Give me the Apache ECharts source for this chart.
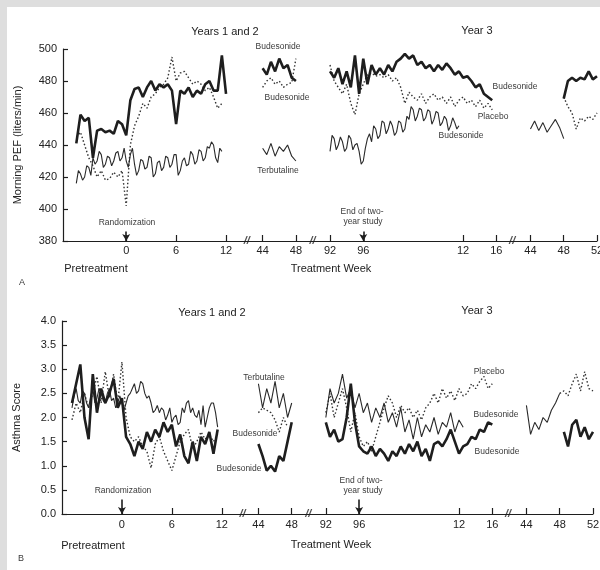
<!DOCTYPE html>
<html>
<head>
<meta charset="utf-8">
<title>Morning PEF and asthma score</title>
<script src="https://cdn.jsdelivr.net/npm/echarts@6/dist/echarts.min.js"></script>
<style>
  html, body { margin: 0; padding: 0; }
  #chart { width: 600px; height: 570px; }
</style>
</head>
<body>
<div id="chart"></div>
<script>
// each array is sampled every half week unless the panel list says otherwise,
// and starts at the study week given there.
// weeks 92..112 run on into year 3 (97 = year 3 week 1), 140..148 = year 3 weeks 44..52

// panel A: morning PEF (liters/min)
const pefBud1 = [441, 459, 455, 457, 432, 449, 450, 448, 449, 447, 455, 453, 446, 468, 475, 476, 470, 476, 480, 474, 478, 476, 478, 474, 453, 474, 472, 476, 470, 474, 472, 478, 480, 474, 474, 496, 472]
const pefDot1 = [445, 448, 440, 432, 427, 420, 424, 418, 419, 423, 420, 424, 402, 440, 452, 458, 466, 463, 470, 472, 476, 478, 482, 495, 480, 485, 486, 482, 478, 480, 478, 474, 476, 470, 463, 466]
const pefTer1 = [416, 424, 422, 418, 420, 427, 426, 421, 432, 428, 430, 436, 434, 426, 428, 433, 432, 427, 430, 435, 436, 430, 432, 438, 430, 426, 434, 438, 428, 421, 424, 431, 430, 425, 426, 433, 432, 420, 422, 429, 430, 424, 426, 433, 432, 426, 428, 434, 434, 421, 424, 430, 432, 427, 428, 436, 434, 428, 430, 437, 436, 430, 432, 439, 438, 442, 440, 432, 429, 438, 436]
const pefBud2 = [488, 484, 492, 486, 494, 488, 490, 482, 480]
const pefDot2 = [476, 480, 482, 478, 480, 476, 478, 479, 494]
const pefTer2 = [438, 434, 441, 433, 439, 436, 440, 433, 430]
const pefBud3 = [486, 482, 488, 478, 486, 476, 496, 472, 494, 478, 490, 484, 488, 484, 490, 486, 492, 494, 497, 494, 496, 490, 492, 488, 490, 486, 490, 487, 491, 488, 484, 486, 482, 483, 480, 476, 478, 472, 470, 468]
const pefDot3 = [490, 480, 476, 472, 478, 466, 459, 472, 478, 484, 485, 483, 484, 482, 484, 480, 482, 476, 466, 473, 470, 468, 472, 466, 470, 472, 468, 470, 466, 470, 464, 468, 470, 466, 468, 464, 468, 463, 466, 462]
const pefTer3 = [436, 446, 444, 437, 440, 445, 442, 436, 438, 446, 444, 437, 440, 441, 436, 428, 430, 438, 444, 447, 442, 452, 450, 444, 446, 455, 454, 447, 450, 455, 452, 446, 448, 455, 454, 448, 450, 458, 456, 464, 462, 455, 458, 463, 462, 455, 457, 462, 461, 453, 456, 461, 460, 452, 454, 458, 456, 449, 452, 457, 454, 450, 452]
const pefTer4 = [450, 455, 449, 454, 448, 452, 456, 451, 444]
const pefBud4 = [469, 480, 482, 480, 482, 481, 486, 481, 483]
const pefDot4 = [470, 464, 460, 450, 457, 455, 458, 456, 460]

// panel B: asthma score
const astBud1 = [2.3, 2.7, 3.1, 2.0, 1.55, 2.9, 2.1, 2.6, 2.3, 2.5, 2.8, 2.2, 2.4, 1.6, 1.45, 1.2, 1.5, 1.35, 1.7, 1.5, 1.75, 1.6, 1.9, 1.7, 1.85, 1.4, 1.65, 1.2, 1.05, 1.5, 1.1, 1.6, 1.45, 1.7, 1.25, 1.75]
const astDot1 = [1.95, 2.3, 2.1, 2.5, 2.2, 2.5, 2.85, 2.3, 2.95, 2.4, 2.9, 2.3, 3.15, 2.0, 1.6, 1.5, 1.6, 1.4, 1.3, 0.95, 1.45, 1.6, 1.3, 1.1, 0.9, 1.2, 1.5, 1.65, 1.75, 1.35, 1.5, 1.7, 1.55, 1.65, 1.5, 1.65]
const astTer1 = [2.2, 2.45, 2.6, 2.35, 2.3, 2.55, 2.5, 2.3, 2.2, 2.45, 2.6, 2.3, 2.4, 2.6, 2.5, 2.35, 2.3, 2.5, 2.6, 2.35, 2.4, 2.2, 2.3, 2.45, 2.3, 2.15, 2.3, 2.45, 2.5, 2.6, 2.7, 2.5, 2.55, 2.75, 2.7, 2.5, 2.4, 2.45, 2.3, 2.1, 2.15, 2.25, 2.1, 2.2, 2.15, 1.95, 2.05, 2.2, 1.9, 2.0, 2.05, 1.85, 1.9, 2.2, 2.1, 2.3, 2.35, 2.1, 2.2, 2.05, 2.0, 2.15, 1.85, 2.25, 1.8, 2.0, 2.2, 2.3, 2.3, 2.1, 1.8]
const astTer2 = [2.7, 2.2, 2.6, 2.3, 2.75, 2.2, 2.5, 2.0, 2.3]
const astDot2 = [2.1, 2.2, 2.15, 2.1, 1.95, 1.7, 2.0, 1.8]
const astBud2 = [1.45, 1.2, 0.9, 1.0, 0.88, 1.2, 1.1, 1.5, 1.9]
const astBud3 = [1.9, 1.6, 1.75, 1.5, 1.55, 2.0, 2.7, 1.9, 1.4, 1.3, 1.25, 1.4, 1.2, 1.35, 1.25, 1.1, 1.3, 1.2, 1.4, 1.25, 1.45, 1.3, 1.5, 1.2, 1.35, 1.1, 1.45, 1.5, 1.4, 1.55, 1.75, 1.5, 1.25, 1.4, 1.45, 1.6, 1.55, 1.75, 1.7, 1.9, 1.85]
const astDot3 = [2.1, 2.5, 2.0, 2.3, 2.6, 2.2, 1.7, 2.1, 1.6, 1.4, 1.5, 1.3, 1.6, 1.9, 2.2, 2.45, 2.3, 2.0, 2.25, 2.1, 2.2, 2.0, 2.15, 1.95, 2.2, 2.3, 2.5, 2.3, 2.6, 2.4, 2.55, 2.35, 2.6, 2.45, 2.5, 2.7, 2.6, 2.75, 2.85, 2.6, 2.7]
const astTer3 = [2.0, 2.6, 2.3, 2.5, 2.9, 2.4, 2.6, 2.2, 2.5, 2.1, 2.3, 1.9, 2.2, 2.0, 2.3, 1.9, 2.1, 1.8, 2.2, 1.7, 1.95, 1.55, 2.0, 1.6, 1.85, 1.7, 2.0, 1.65, 1.9, 1.8, 2.1, 1.7, 1.95, 1.8]
const astTer4 = [2.25, 1.65, 1.9, 1.75, 2.0, 1.9, 2.15, 2.3, 2.5]
const astDot4 = [2.5, 2.55, 2.45, 2.7, 2.9, 2.55, 2.95, 2.6, 2.55]
const astBud4 = [1.7, 1.4, 1.85, 1.95, 1.6, 1.8, 1.55, 1.7]

// axis ticks (study weeks) and what they are labelled
const tickWeeks = [0, 6, 12, 44, 48, 92, 96, 108, 112, 140, 144, 148]
const tickText = ['0', '6', '12', '44', '48', '92', '96', '12', '16', '44', '48', '52']
const breakPos = [14.5, 22.4, 46.4]
const arrowWeeks = [0, 96]

// compressed axis: drop the gaps between the plotted stretches
const toPos = (w) => {
  if (w <= 14) return w
  if (w <= 50) return w - 27.6
  if (w <= 120) return w - 67.5
  return w - 91.4
}

const seg = (start, vals, step) => vals.map((v, i) => [toPos(start + i * step), v])

const ink = '#1e1e1e'
const font = "'Liberation Sans', Arial, sans-serif"
const styles = {
  bud: { color: ink, width: 2.6 },
  ter: { color: '#2a2a2a', width: 1.1 },
  dot: { color: '#333', width: 1.4, type: [1.5, 2.2] }
}

// [style, first week, values, step in weeks]
const panelA = [
  ['dot', -6, pefDot1, 0.5], ['dot', 44, pefDot2, 0.5], ['dot', 92, pefDot3, 0.5], ['dot', 144, pefDot4, 0.5],
  ['ter', -6, pefTer1, 0.25], ['ter', 44, pefTer2, 0.5], ['ter', 92, pefTer3, 0.25], ['ter', 140, pefTer4, 0.5],
  ['bud', -6, pefBud1, 0.5], ['bud', 44, pefBud2, 0.5], ['bud', 92, pefBud3, 0.5], ['bud', 144, pefBud4, 0.5]
]
const panelB = [
  ['dot', -6, astDot1, 0.5], ['dot', 44, astDot2, 0.5], ['dot', 92, astDot3, 0.5], ['dot', 144, astDot4, 0.5],
  ['ter', -6, astTer1, 0.25], ['ter', 44, astTer2, 0.5], ['ter', 92, astTer3, 0.5], ['ter', 140, astTer4, 0.5],
  ['bud', -6, astBud1, 0.5], ['bud', 44, astBud2, 0.5], ['bud', 92, astBud3, 0.5], ['bud', 144.5, astBud4, 0.5]
]

const tickPos = tickWeeks.map(toPos)
const tickLabel = (v) => {
  let best = 0
  tickPos.forEach((p, i) => { if (Math.abs(p - v) < Math.abs(tickPos[best] - v)) best = i })
  return tickText[best]
}

const makeX = (idx, min, margin) => ({
  type: 'value',
  gridIndex: idx,
  min: min,
  max: toPos(148),
  splitLine: { show: false },
  axisLine: { onZero: false, lineStyle: { color: ink, width: 1.2 } },
  axisTick: { inside: true, length: 6, customValues: tickPos, lineStyle: { color: ink, width: 1.2 } },
  axisLabel: { customValues: tickPos, formatter: tickLabel, color: '#222', fontSize: 11, fontFamily: font, margin: margin }
})

const makeY = (idx, min, max, interval, name, fmt) => ({
  type: 'value',
  gridIndex: idx,
  min: min,
  max: max,
  interval: interval,
  name: name,
  nameLocation: 'middle',
  nameGap: 40,
  nameTextStyle: { color: '#222', fontSize: 11, fontFamily: font },
  splitLine: { show: false },
  axisLine: { show: true, onZero: false, lineStyle: { color: ink, width: 1.2 } },
  axisTick: { show: true, inside: true, length: 5, lineStyle: { color: ink, width: 1.2 } },
  axisLabel: { color: '#222', fontSize: 11, fontFamily: font, margin: 6, formatter: fmt }
})

const lineSeries = (list, idx) => list.map(([kind, start, vals, step]) => ({
  type: 'line',
  xAxisIndex: idx,
  yAxisIndex: idx,
  data: seg(start, vals, step),
  showSymbol: false,
  symbol: 'none',
  lineStyle: styles[kind],
  z: kind === 'bud' ? 4 : 3,
  silent: true
}))

// break marks on the axis, and the two arrows
const helperSeries = (idx, yMin, arrowTop) => ({
  type: 'scatter',
  xAxisIndex: idx,
  yAxisIndex: idx,
  data: breakPos.map(p => [p, yMin]),
  symbolSize: 1,
  itemStyle: { color: 'transparent' },
  label: {
    show: true, position: 'inside', formatter: '//', color: ink,
    fontSize: 11, fontWeight: 'bold', fontStyle: 'italic', fontFamily: font
  },
  silent: true,
  z: 6,
  markLine: {
    silent: true,
    symbol: ['none', 'arrow'],
    symbolSize: [6, 7],
    label: { show: false },
    lineStyle: { color: ink, width: 1.6, type: 'solid' },
    data: arrowWeeks.map(w => [{ coord: [toPos(w), arrowTop] }, { coord: [toPos(w), yMin] }])
  }
})

// free text: [text, x, y, size]
const notes = [
  ['Years 1 and 2', 225, 32, 11], ['Year 3', 477, 31, 11],
  ['Budesonide', 278, 47, 8.5], ['Budesonide', 287, 98, 8.5], ['Terbutaline', 278, 171, 8.5],
  ['Budesonide', 515, 87, 8.5], ['Placebo', 493, 117, 8.5], ['Budesonide', 461, 136, 8.5],
  ['Randomization', 127, 223, 8.5], ['End of two-', 362, 212, 8.5], ['year study', 363, 222, 8.5],
  ['Pretreatment', 96, 269, 11], ['Treatment Week', 331, 269, 11], ['A', 22, 283, 9],
  ['Years 1 and 2', 212, 313, 11], ['Year 3', 477, 311, 11],
  ['Terbutaline', 264, 378, 8.5], ['Budesonide', 255, 434, 8.5], ['Budesonide', 239, 469, 8.5],
  ['Placebo', 489, 372, 8.5], ['Budesonide', 496, 415, 8.5], ['Budesonide', 497, 452, 8.5],
  ['Randomization', 123, 491, 8.5], ['End of two-', 361, 481, 8.5], ['year study', 363, 491, 8.5],
  ['Pretreatment', 93, 546, 11], ['Treatment Week', 331, 545, 11], ['B', 21, 559, 9]
]

const chart = echarts.init(document.getElementById('chart'), null, { renderer: 'canvas' })

chart.setOption({
  animation: false,
  backgroundColor: '#dedede',
  grid: [
    { left: 63, top: 49, right: 3, height: 192, outerBoundsMode: 'none' },
    { left: 62, top: 321, right: 7, height: 193, outerBoundsMode: 'none' }
  ],
  xAxis: [makeX(0, -7.6, 4), makeX(1, -7.2, 5)],
  yAxis: [
    makeY(0, 380, 500, 20, 'Morning PEF (liters/min)'),
    makeY(1, 0, 4, 0.5, 'Asthma Score', v => v.toFixed(1))
  ],
  graphic: [
    { type: 'rect', shape: { x: 7, y: 7, width: 593, height: 563 }, style: { fill: '#fff' }, z: -10, silent: true },
    ...notes.map(([text, x, y, size]) => ({
      type: 'text',
      x: x,
      y: y,
      silent: true,
      style: {
        text: text,
        fill: size > 10 ? '#222' : '#3a3a3a',
        font: `${size}px ${font}`,
        textAlign: 'center',
        textVerticalAlign: 'middle'
      }
    }))
  ],
  series: [
    ...lineSeries(panelA, 0),
    ...lineSeries(panelB, 1),
    helperSeries(0, 380, 386),
    helperSeries(1, 0, 0.3)
  ]
})
</script>
</body>
</html>
